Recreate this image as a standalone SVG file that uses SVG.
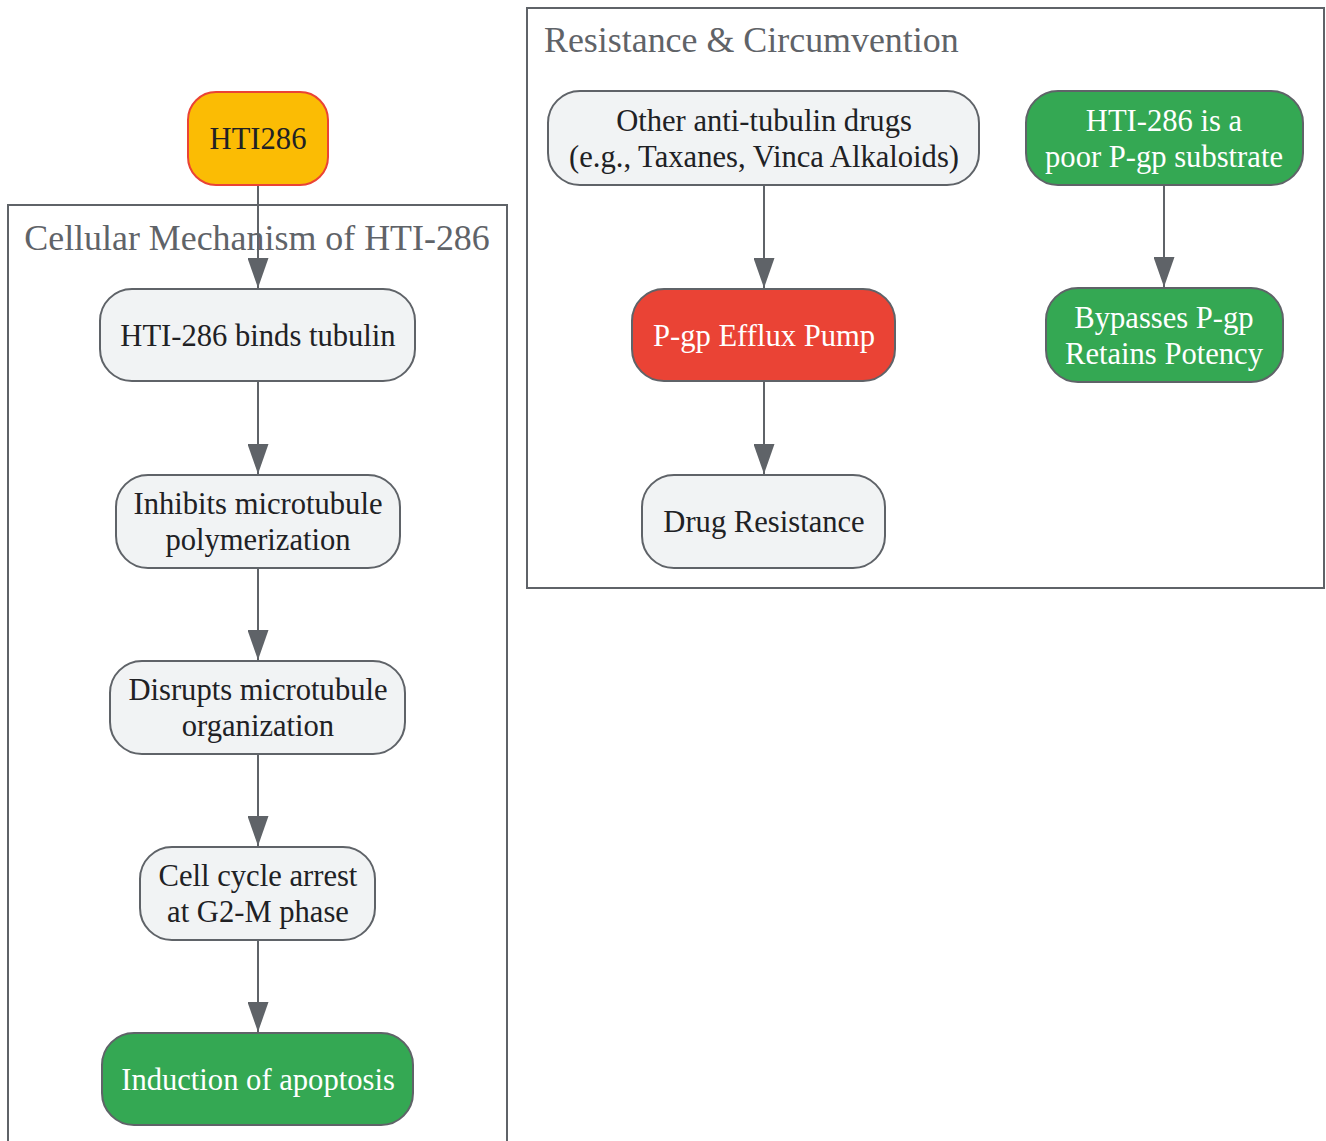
<svg xmlns="http://www.w3.org/2000/svg" width="1326" height="1141" viewBox="0 0 1326 1141">
<style>
.cluster{fill:#ffffff;stroke:#5f6368;stroke-width:2}
.ctitle{font-family:"Liberation Serif","Times New Roman",serif;font-size:35.9px;fill:#5f6368}
.node rect{stroke:#5f6368;stroke-width:2}
.grey{fill:#f1f3f4}
.green{fill:#34a853}
.red{fill:#ea4335}
.t{font-family:"Liberation Serif","Times New Roman",serif;font-size:30.6px;text-anchor:middle;fill:#202124}
.w{fill:#ffffff}
.edge{stroke:#5f6368;stroke-width:2;fill:none}
</style>
<defs>
<marker id="arr" viewBox="0 0 30 21" refX="30" refY="10.5" markerWidth="30" markerHeight="21" markerUnits="userSpaceOnUse" orient="auto">
<path d="M0,0 L30,10.5 L0,21 z" fill="#5f6368"/>
</marker>
</defs>
<g id="cluster-mechanism">
<rect class="cluster" x="8" y="205" width="499" height="960"/>
<text class="ctitle" x="257" y="250" text-anchor="middle">Cellular Mechanism of HTI-286</text>
</g>
<g id="cluster-resistance">
<rect class="cluster" x="527" y="8" width="797" height="580"/>
<text class="ctitle" x="544" y="52">Resistance &amp; Circumvention</text>
</g>
<g id="connectors">
<line class="edge" x1="258" y1="185" x2="258" y2="288" marker-end="url(#arr)"/>
<line class="edge" x1="258" y1="381" x2="258" y2="474" marker-end="url(#arr)"/>
<line class="edge" x1="258" y1="568" x2="258" y2="660" marker-end="url(#arr)"/>
<line class="edge" x1="258" y1="754" x2="258" y2="846" marker-end="url(#arr)"/>
<line class="edge" x1="258" y1="940" x2="258" y2="1032" marker-end="url(#arr)"/>
<line class="edge" x1="764" y1="185" x2="764" y2="288" marker-end="url(#arr)"/>
<line class="edge" x1="764" y1="381" x2="764" y2="474" marker-end="url(#arr)"/>
<line class="edge" x1="1164" y1="185" x2="1164" y2="287" marker-end="url(#arr)"/>
</g>
<g id="node-HTI286" class="node">
<rect x="188" y="92" width="140" height="93" rx="28" fill="#fbbc04" style="stroke:#ea4335"/>
<text class="t" x="258" y="149">HTI286</text>
</g>
<g id="node-binds" class="node">
<rect class="grey" x="100" y="289" width="315" height="92" rx="32"/>
<text class="t" x="258" y="346">HTI-286 binds tubulin</text>
</g>
<g id="node-inhibits" class="node">
<rect class="grey" x="116" y="475" width="284" height="93" rx="32"/>
<text class="t" x="258" y="514">Inhibits microtubule</text>
<text class="t" x="258" y="550">polymerization</text>
</g>
<g id="node-disrupts" class="node">
<rect class="grey" x="110" y="661" width="295" height="93" rx="32"/>
<text class="t" x="258" y="700">Disrupts microtubule</text>
<text class="t" x="258" y="736">organization</text>
</g>
<g id="node-arrest" class="node">
<rect class="grey" x="140" y="847" width="235" height="93" rx="32"/>
<text class="t" x="258" y="886">Cell cycle arrest</text>
<text class="t" x="258" y="922">at G2-M phase</text>
</g>
<g id="node-apoptosis" class="node">
<rect class="green" x="102" y="1033" width="311" height="92" rx="32"/>
<text class="t w" x="258" y="1090">Induction of apoptosis</text>
</g>
<g id="node-other" class="node">
<rect class="grey" x="548" y="91" width="431" height="94" rx="32"/>
<text class="t" x="764" y="131">Other anti-tubulin drugs</text>
<text class="t" x="764" y="167">(e.g., Taxanes, Vinca Alkaloids)</text>
</g>
<g id="node-poor" class="node">
<rect class="green" x="1026" y="91" width="277" height="94" rx="32"/>
<text class="t w" x="1164" y="131">HTI-286 is a</text>
<text class="t w" x="1164" y="167">poor P-gp substrate</text>
</g>
<g id="node-pgp" class="node">
<rect class="red" x="632" y="289" width="263" height="92" rx="32"/>
<text class="t w" x="764" y="346">P-gp Efflux Pump</text>
</g>
<g id="node-bypass" class="node">
<rect class="green" x="1046" y="288" width="237" height="94" rx="32"/>
<text class="t w" x="1164" y="328">Bypasses P-gp</text>
<text class="t w" x="1164" y="364">Retains Potency</text>
</g>
<g id="node-resistance" class="node">
<rect class="grey" x="642" y="475" width="243" height="93" rx="32"/>
<text class="t" x="764" y="532">Drug Resistance</text>
</g>
</svg>
